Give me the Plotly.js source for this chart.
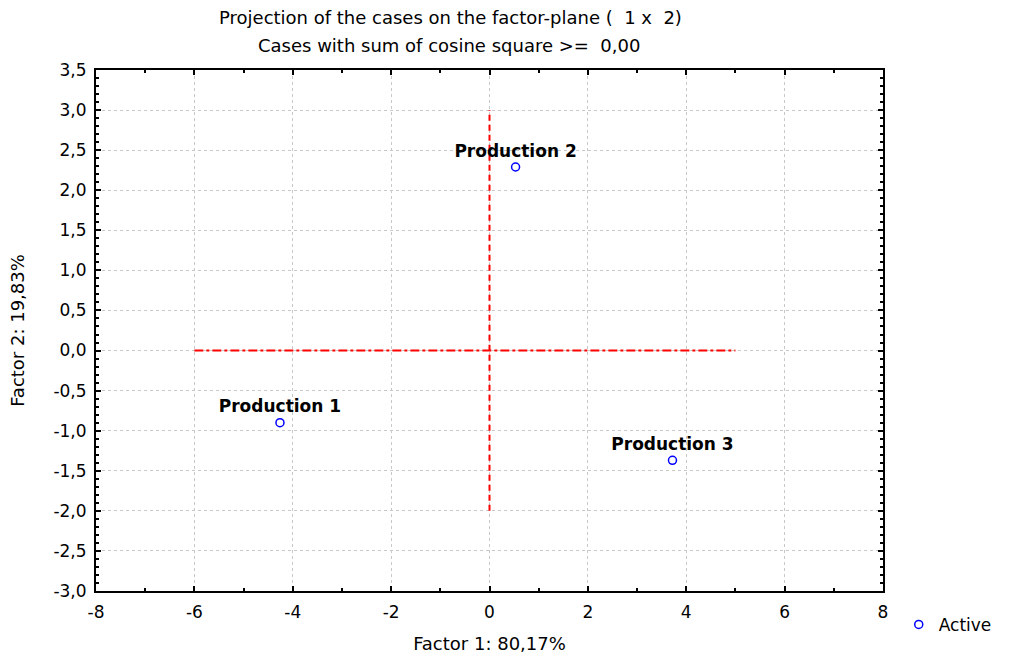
<!DOCTYPE html>
<html><head><meta charset="utf-8">
<script src="https://cdn.plot.ly/plotly-3.0.1.min.js"></script>
<style>body{margin:0;background:#fff}#chart{width:1009px;height:664px}</style>
</head><body><div id="chart"></div>
<script>
const caseNames = ["Production 1", "Production 2", "Production 3"];
const factor1 = [-4.26, 0.53, 3.72];
const factor2 = [-0.90, 2.29, -1.37];
const vLineX = [0, 0];
const vLineY = [-2.0, 3.0];
const hLineX = [-6, 5];
const hLineY = [0, 0];
const xTickVals = [-8, -6, -4, -2, 0, 2, 4, 6, 8];
const xTickText = ["-8", "-6", "-4", "-2", "0", "2", "4", "6", "8"];
const yTickVals = [-3, -2.5, -2, -1.5, -1, -0.5, 0, 0.5, 1, 1.5, 2, 2.5, 3, 3.5];
const yTickText = ["-3,0", "-2,5", "-2,0", "-1,5", "-1,0", "-0,5", "0,0", "0,5", "1,0", "1,5", "2,0", "2,5", "3,0", "3,5"];
const titleLine1 = "Projection of the cases on the factor-plane (  1 x  2)";
const titleLine2 = "Cases with sum of cosine square >=  0,00";

const font = "DejaVu Sans, Liberation Sans, Arial, sans-serif";
const traces = [
  {x: vLineX, y: vLineY, mode: "lines", line: {color: "#ff0000", width: 2, dash: "6px,4px"}, showlegend: false, hoverinfo: "skip"},
  {x: hLineX, y: hLineY, mode: "lines", line: {color: "#ff0000", width: 2, dash: "dashdot"}, showlegend: false, hoverinfo: "skip"},
  {x: factor1, y: factor2, text: caseNames, name: "Active", mode: "markers+text",
   textposition: "top center",
   textfont: {family: font, size: 17, color: "#000", weight: "bold"},
   marker: {symbol: "circle-open", color: "#0000ff", size: 8, line: {width: 1.5, color: "#0000ff"}}}
];
const axisCommon = {
  showline: true, linecolor: "#000", linewidth: 2, mirror: "allticks",
  ticks: "inside", ticklen: 5, tickcolor: "#000", tickwidth: 1.5,
  showgrid: true, gridcolor: "#c8c8c8", griddash: "dot", gridwidth: 1,
  zeroline: false, tickfont: {family: font, size: 17, color: "#000"}, tickmode: "array"
};
const layout = {
  width: 1009, height: 664,
  margin: {l: 96, r: 124, t: 70, b: 73},
  paper_bgcolor: "#fff", plot_bgcolor: "#fff",
  annotations: [
    {text: titleLine1, xref: "paper", yref: "paper", x: (451 - 96) / 789, y: 1 + (70 - 18) / 521, xanchor: "center", yanchor: "middle", showarrow: false, font: {family: font, size: 18, color: "#000"}},
    {text: titleLine2, xref: "paper", yref: "paper", x: (450 - 96) / 789, y: 1 + (70 - 45) / 521, xanchor: "center", yanchor: "middle", showarrow: false, font: {family: font, size: 18, color: "#000"}}
  ],
  xaxis: Object.assign({}, axisCommon, {range: [-8, 8], tickvals: xTickVals, ticktext: xTickText, ticklabelstandoff: 5,
    minor: {ticks: "inside", dtick: 1, ticklen: 3, tickcolor: "#000", showgrid: false},
    title: {text: "Factor 1: 80,17%", font: {family: font, size: 18, color: "#000"}, standoff: 16}}),
  yaxis: Object.assign({}, axisCommon, {range: [-3, 3.5], tickvals: yTickVals, ticktext: yTickText, ticklabelstandoff: 4,
    minor: {ticks: "inside", dtick: 0.1, ticklen: 3, tickcolor: "#000", showgrid: false},
    title: {text: "Factor 2: 19,83%", font: {family: font, size: 18, color: "#000"}, standoff: 24}}),
  showlegend: true,
  legend: {x: 1.02, xanchor: "left", y: -0.065, yanchor: "middle", font: {family: font, size: 17, color: "#000"}, bgcolor: "rgba(0,0,0,0)"}
};
Plotly.newPlot("chart", traces, layout, {displayModeBar: false});
</script></body></html>
